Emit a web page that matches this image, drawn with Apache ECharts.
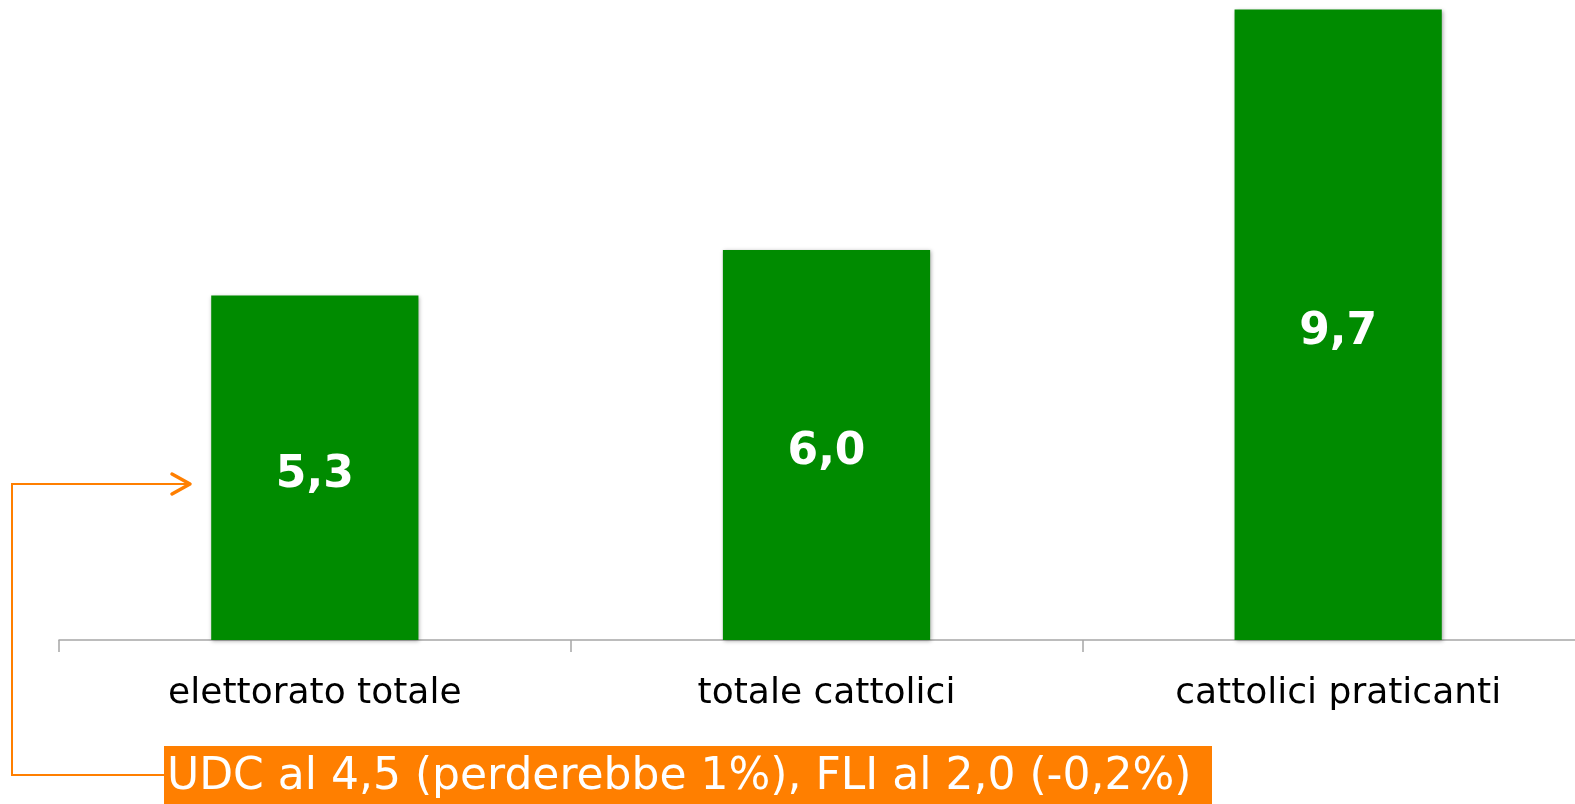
<!DOCTYPE html>
<html>
<head>
<meta charset="utf-8">
<script src="https://cdn.jsdelivr.net/npm/echarts@6/dist/echarts.min.js"></script>
<style>
html,body{margin:0;padding:0;background:#fff;overflow:hidden;width:1575px;height:804px;}
#chart{width:1594px;height:814px;position:absolute;left:0;top:-10px;}
</style>
</head>
<body>
<div id="chart"></div>
<script>
const categories = ['elettorato totale', 'totale cattolici', 'cattolici praticanti'];
const values = [5.3, 6.0, 9.7];
const valueLabels = ['5,3', '6,0', '9,7'];
const noteText = 'UDC al 4,5 (perderebbe 1%), FLI al 2,0 (-0,2%)';

const FONT = 'DejaVu Sans';
const ORANGE = '#FF7F00';
const DY = 10; // container shifted up by 10px

const chart = echarts.init(document.getElementById('chart'), null, {renderer: 'canvas'});
chart.setOption({
  animation: false,
  backgroundColor: '#ffffff',
  grid: {left: 59, right: 0, top: 0, bottom: 164, containLabel: false},
  xAxis: {
    type: 'category',
    data: categories,
    axisLine: {lineStyle: {color: '#A6A6A6', width: 1.5}},
    axisTick: {show: true, length: 12, lineStyle: {color: '#A6A6A6', width: 1.5}},
    axisLabel: {color: '#000', fontFamily: FONT, fontSize: 36, margin: 36}
  },
  yAxis: {
    type: 'value', min: 0, max: 10, show: false,
    splitLine: {show: false}
  },
  series: [{
    type: 'bar',
    data: values,
    barWidth: '40.5%',
    itemStyle: {
      color: '#008B00',
      shadowColor: 'rgba(0,0,0,0.35)', shadowBlur: 4, shadowOffsetX: 1, shadowOffsetY: 1
    },
    label: {
      show: true, position: 'inside', offset: [0, 8],
      formatter: p => valueLabels[p.dataIndex],
      color: '#fff', fontWeight: 'bold', fontFamily: FONT, fontSize: 44
    }
  }],
  graphic: [
    {type: 'polyline', shape: {points: [[164, 775 + DY], [12, 775 + DY], [12, 484 + DY], [190, 484 + DY]]},
     style: {stroke: ORANGE, lineWidth: 2, fill: null}},
    {type: 'polyline', shape: {points: [[172, 474 + DY], [190, 484 + DY], [172, 494 + DY]]},
     style: {stroke: ORANGE, lineWidth: 3.5, fill: null, lineCap: 'round', lineJoin: 'round'}},
    {type: 'rect', shape: {x: 164, y: 746 + DY, width: 1048, height: 60}, style: {fill: ORANGE}},
    {type: 'text', x: 167, y: 778 + DY,
     style: {text: noteText, fill: '#fff', font: '44px "DejaVu Sans"', textVerticalAlign: 'middle', verticalAlign: 'middle'}}
  ]
});
</script>
</body>
</html>
